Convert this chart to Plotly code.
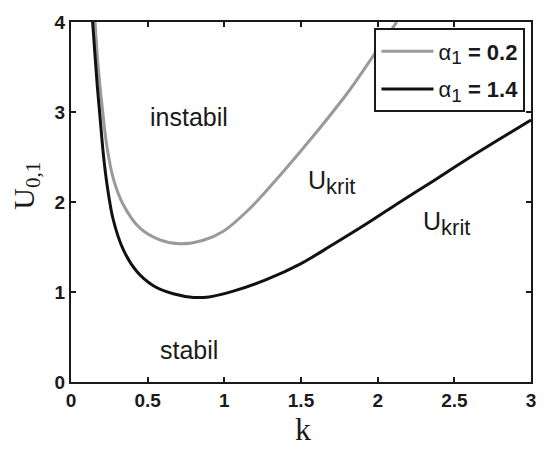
import plotly.graph_objects as go

# Critical velocity curves U_krit(k) for two values of alpha_1
k_a02 = [0.157, 0.175, 0.200, 0.233, 0.276, 0.341, 0.450, 0.580, 0.711, 0.863,
         0.994, 1.168, 1.385, 1.603, 1.820, 1.970, 2.125]
u_a02 = [4.00, 3.55, 3.11, 2.63, 2.26, 1.97, 1.71, 1.58, 1.535, 1.575,
         1.675, 1.93, 2.34, 2.78, 3.25, 3.62, 4.00]

k_a14 = [0.141, 0.157, 0.172, 0.189, 0.211, 0.237, 0.276, 0.341, 0.428, 0.537,
         0.667, 0.800, 0.900, 1.059, 1.277, 1.494, 1.711, 1.930, 2.146, 2.350,
         2.559, 2.777, 3.000]
u_a14 = [4.00, 3.62, 3.28, 2.95, 2.53, 2.17, 1.80, 1.47, 1.23, 1.07,
         0.98, 0.94, 0.945, 1.01, 1.14, 1.31, 1.53, 1.76, 2.00, 2.22,
         2.45, 2.68, 2.91]

x_ticks = [0, 0.5, 1, 1.5, 2, 2.5, 3]
x_tick_text = ["0", "0.5", "1", "1.5", "2", "2.5", "3"]
y_ticks = [0, 1, 2, 3, 4]
y_tick_text = ["0", "1", "2", "3", "4"]

INK = "#1a1a1a"


def alpha_label(value):
    return ("α<sub><span style='font-size:19px'>1</span></sub>"
            f" <b>= {value}</b>")


fig = go.Figure()
fig.add_trace(go.Scatter(
    x=k_a02, y=u_a02, mode="lines", name=alpha_label("0.2"),
    legendgroup="a02",
    line=dict(color="#9a9a9a", width=3, shape="spline", smoothing=1.0),
))
fig.add_trace(go.Scatter(
    x=k_a14, y=u_a14, mode="lines", name=alpha_label("1.4"),
    legendgroup="a14",
    line=dict(color="#111111", width=3, shape="spline", smoothing=1.0),
))

axis_common = dict(
    showgrid=False, zeroline=False, showline=True, linecolor=INK,
    linewidth=2, mirror="ticks", ticks="inside", ticklen=5, tickwidth=1.5,
    tickcolor=INK,
    tickfont=dict(family="Liberation Sans", size=19, color=INK, weight="bold"),
)

fig.update_xaxes(range=[0, 3], tickvals=x_ticks, ticktext=x_tick_text,
                 **axis_common)
fig.update_yaxes(range=[0, 4], tickvals=y_ticks, ticktext=y_tick_text,
                 **axis_common)

label_font = dict(family="Liberation Sans", size=25, color=INK)
ukrit = "U<sub><span style='font-size:22px'>krit</span></sub>"
fig.add_annotation(x=0.77, y=2.95, text="instabil", showarrow=False,
                   font=label_font)
fig.add_annotation(x=0.77, y=0.36, text="stabil", showarrow=False,
                   font=label_font)
fig.add_annotation(x=1.70, y=2.22, text=ukrit, showarrow=False,
                   font=label_font)
fig.add_annotation(x=2.45, y=1.76, text=ukrit, showarrow=False,
                   font=label_font)

# Axis titles (serif)
fig.add_annotation(x=0.504, y=-0.13, xref="paper", yref="paper", text="k",
                   showarrow=False, yanchor="middle",
                   font=dict(family="Liberation Serif", size=32, color=INK))
fig.add_annotation(x=-0.098, y=0.545, xref="paper", yref="paper",
                   text="U<sub>0,1</sub>", showarrow=False, textangle=-90,
                   xanchor="center", yanchor="middle",
                   font=dict(family="Liberation Serif", size=30, color=INK))

fig.update_layout(
    width=549, height=450,
    margin=dict(l=71, r=18, t=19, b=68),
    plot_bgcolor="white", paper_bgcolor="white",
    showlegend=True,
    legend=dict(
        x=0.988, y=0.982, xanchor="right", yanchor="top",
        bgcolor="white", bordercolor=INK, borderwidth=2,
        font=dict(family="Liberation Sans", size=22, color=INK),
        tracegroupgap=6, itemwidth=52,
    ),
)

fig.write_html("out.html")
